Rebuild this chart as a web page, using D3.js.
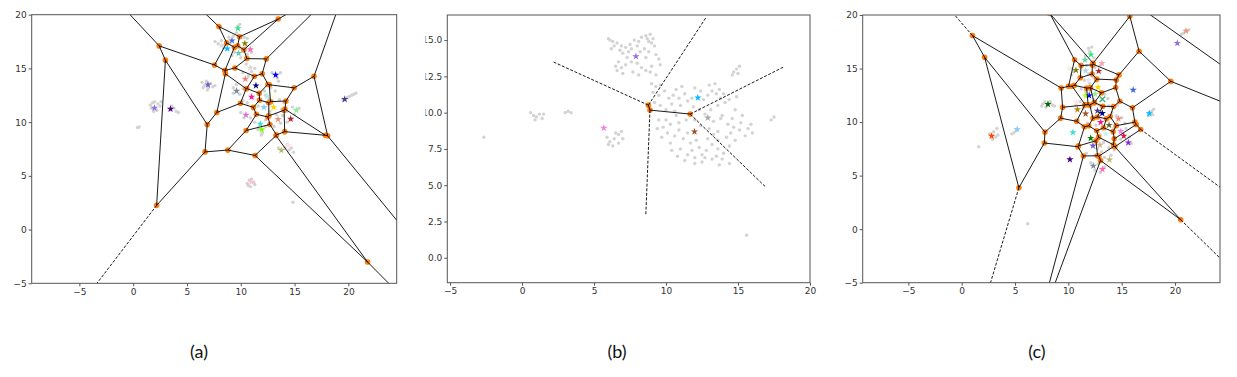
<!DOCTYPE html>
<html><head><meta charset="utf-8">
<script src="https://cdn.jsdelivr.net/npm/d3@7"></script>
<style>body{margin:0;background:#fff}svg{display:block}</style>
</head><body>
<svg id="chart" width="1237" height="377"></svg>
<script>
// ---------------- DATA ----------------
const panelLabels = ["(a)", "(b)", "(c)"];
const xTicks = [-5, 0, 5, 10, 15, 20];
const yTicksAC = [-5, 0, 5, 10, 15, 20];
const yTicksB = [0, 2.5, 5, 7.5, 10, 12.5, 15];

// cluster centres (Voronoi generators) -- panel (a)
const starsA = [[9.74,18.73],[9.18,17.59],[10.38,17.33],[8.74,16.84],[10.885,16.765],[9.80,16.41],
  [10.86,15.05],[10.42,14.02],[13.24,14.39],[11.41,13.40],[6.95,13.49],[9.61,12.90],[11.01,12.35],
  [12.45,12.41],[12.16,11.38],[13.05,11.38],[15.16,11.10],[10.48,10.67],[13.46,10.27],
  [14.64,10.30],[11.81,9.83],[11.94,9.31],[14.42,7.85],[13.77,7.38],[1.98,11.32],
  [3.47,11.23],[19.66,12.13],[10.98,4.44],[8.21,17.13],[13.0,12.45]];
const starColorsA = ["#2ee88a","#4169e1","#808000","#00bfff","#ff69b4","#66cdaa",
  "#dcdcdc","#f08080","#0000ff","#000080","#6a5acd","#778899","#ff1493",
  "#afeeee","#87cefa","#ffd700","#90ee90","#da70d6","#e9967a",
  "#b22222","#40e0d0","#7cfc00","#ffe4e1","#bdb76b","#9370db",
  "#4b0082","#483d8b","#ffc0cb","#dedede","#fffbe0"];

// panel (b)
const starsB = [[7.91,13.88],[5.68,8.94],[12.21,11.03],[11.98,8.69],[12.90,9.65]];
const starColorsB = ["#9370db","#ee82ee","#00bfff","#a0522d","#a9a9a9"];

// panel (c)
const starsC = [[21.03,18.52],[20.22,17.37],[16.08,13.0],[17.59,10.80],[12.12,16.30],[11.56,15.81],
  [13.15,15.49],[10.05,15.0],[10.71,14.85],[11.62,14.79],[12.85,14.76],[11.90,13.90],[12.79,13.25],
  [11.95,12.49],[11.61,12.46],[12.51,12.63],[13.20,12.13],[10.78,11.87],[8.09,11.67],[10.85,11.17],
  [11.62,10.78],[12.73,11.05],[13.18,10.82],[14.70,10.31],[13.03,9.98],[13.82,9.72],[14.92,9.14],
  [15.20,8.71],[15.62,8.08],[13.50,8.92],[12.10,8.50],[12.31,7.79],[12.96,7.86],[10.43,9.03],
  [10.15,6.50],[12.34,5.91],[13.857,6.483],[13.20,5.59],[5.20,9.33],[2.81,8.70]];
const starColorsC = ["#e9967a","#9370db","#4169e1","#00bfff","#2ee87a","#66cdaa",
  "#f4a6b0","#f5f5dc","#808000","#add8e6","#a52a2a","#e6e6fa","#ffd700",
  "#0000ff","#adff2f","#90ee90","#3cb371","#ffe4e1","#006400","#b8860b",
  "#a0522d","#483d8b","#000080","#fa8072","#ff1493","#556b2f","#ee82ee",
  "#dc143c","#8a2be2","#c8f0f0","#008000","#6a5acd","#d2b48c","#40e0d0",
  "#4b0082","#778899","#bdb76b","#ff69b4","#87cefa","#ff4500"];
const starMarkersC = starsC.map((d,i)=> i===16 ? "x" : "star");

// embedded samples (light grey)
const greyA = [[7.6,17.5],[7.9,17.3],[8.2,17.6],[8.5,17.2],[8.9,17.9],[9.3,18.0],[9.6,18.3],[9.9,18.0],
  [10.3,17.9],[10.6,17.8],[9.0,17.3],[9.5,17.0],[9.9,16.9],[10.2,16.6],[9.4,16.5],[10.6,16.3],[11.0,16.5],
  [9.7,18.9],[9.9,19.1],[8.4,16.9],[10.0,16.0],[10.5,17.1],[9.2,16.2],[10.5,15.4],[10.9,15.1],[11.3,15.0],
  [10.2,14.6],[10.7,14.3],[11.0,14.7],[6.4,13.7],[6.6,13.4],[6.8,13.8],[7.0,13.2],[7.2,13.6],[7.4,13.3],
  [6.5,13.2],[7.6,13.4],[6.9,13.0],[1.6,11.6],[1.8,11.8],[2.0,11.9],[2.3,11.7],[2.5,11.5],[1.7,11.3],
  [2.2,11.1],[1.9,11.0],[2.6,11.9],[3.8,11.3],[4.0,11.0],[4.2,10.9],[3.6,11.5],[0.55,9.55],[0.4,9.5],
  [9.3,13.2],[9.6,13.5],[9.9,12.6],[9.3,12.7],[10.2,13.1],[12.9,14.6],[13.4,14.1],[13.7,14.6],[13.5,13.8],
  [12.8,13.2],[13.2,12.9],[12.2,12.9],[11.8,12.0],[12.4,11.8],[12.9,12.0],[13.6,12.1],[14.0,11.8],
  [13.8,11.2],[14.3,11.0],[12.7,11.0],[11.6,11.5],[11.1,11.2],[10.9,10.4],[10.3,10.4],[10.0,10.9],
  [11.3,10.0],[12.3,10.2],[12.7,10.6],[13.3,10.7],[13.9,10.6],[14.3,10.0],[15.0,10.7],[15.4,11.3],
  [14.8,11.4],[12.0,9.0],[11.6,9.3],[12.3,9.6],[11.9,8.8],[13.1,9.6],[13.7,9.9],[10.6,11.8],[10.2,12.0],
  [12.3,12.5],[12.6,12.2],[14.3,7.9],[14.7,7.6],[14.9,7.2],[14.5,7.4],[14.1,7.6],[13.5,7.6],
  [19.9,12.3],[20.1,12.4],[20.3,12.5],[20.5,12.6],[20.7,12.7],[19.5,12.0],[10.6,4.3],[10.8,4.6],
  [11.0,4.7],[11.2,4.4],[10.7,4.1],[11.3,4.2],[10.9,4.0],[14.85,2.55]];
const greyB = [[6.0,15.1],[6.3,14.9],[6.6,14.8],[6.9,14.6],[7.2,14.5],[7.5,14.7],[7.8,15.0],[8.1,14.9],
  [8.6,15.3],[8.9,15.4],[9.1,15.1],[8.8,14.9],[9.2,14.6],[8.5,14.4],[7.0,14.1],[7.3,13.8],[6.7,13.5],
  [6.5,13.2],[6.9,13.1],[7.2,13.3],[7.6,13.5],[8.0,13.4],[8.3,13.1],[8.6,12.9],[8.9,12.8],[9.3,12.6],
  [7.4,14.2],[8.2,14.2],[8.6,13.8],[9.3,14.0],[6.2,14.4],[7.7,12.8],[9.0,12.0],[9.3,11.8],[9.6,11.9],
  [9.1,11.4],[9.5,11.2],[9.9,11.5],[10.2,11.0],[9.2,10.7],[9.6,10.5],[10.0,10.2],[10.4,10.6],
  [10.5,11.2],[10.9,11.0],[11.3,11.3],[11.5,10.8],[11.0,10.5],[10.6,10.1],[11.9,10.4],[12.3,10.2],
  [12.6,10.9],[12.9,11.2],[13.2,11.5],[13.5,11.3],[13.8,11.0],[14.1,10.7],[13.6,10.5],[13.1,10.2],
  [12.7,9.9],[13.3,9.4],[13.9,9.8],[14.3,9.2],[14.7,9.0],[14.5,8.6],[15.1,8.8],[14.2,8.3],[13.6,8.7],
  [13.0,8.9],[12.4,9.1],[11.4,9.5],[10.9,9.3],[10.3,9.2],[9.8,9.0],[9.4,8.9],[10.1,8.6],[10.6,8.4],
  [11.2,8.2],[11.7,7.9],[12.3,7.6],[12.8,7.4],[13.2,7.8],[13.6,7.5],[14.0,7.2],[11.0,7.5],[11.5,7.1],
  [12.0,6.9],[12.5,6.6],[11.3,6.7],[13.2,6.8],[10.3,7.9],[9.7,8.3],[14.4,6.5],[12.9,8.2],[13.8,9.6],
  [14.7,12.8],[14.9,13.0],[15.1,13.2],[14.6,12.6],[15.0,12.7],[17.3,9.5],[17.5,9.7],
  [0.6,10.0],[0.8,9.8],[1.0,9.7],[1.2,9.9],[0.9,9.5],[1.4,9.6],[1.5,9.9],[3.0,10.0],[3.2,10.1],[3.4,10.0],
  [5.9,8.3],[6.1,8.0],[6.4,8.2],[6.7,8.5],[6.9,8.7],[6.3,7.7],[6.7,7.9],[7.0,8.2],[6.0,7.8],[6.5,8.6],
  [-2.65,8.3],[15.6,1.55],[13.7,6.4],
  [6.1,15.0],[6.4,14.6],[6.8,14.3],[7.6,14.4],[8.0,14.6],[8.3,15.2],[8.7,15.1],[9.0,14.8],[8.8,14.2],
  [9.5,13.7],[9.6,13.3],[9.0,13.2],[6.6,12.9],[7.0,12.7],[8.1,12.6],[10.7,11.6],[11.1,11.8],[12.0,11.7],
  [12.4,11.5],[13.0,11.9],[13.4,12.0],[13.7,11.6],[14.0,11.3],[14.4,10.9],[14.8,10.2],[14.6,9.6],
  [15.2,9.3],[15.5,8.4],[15.3,9.8],[14.9,11.1],[13.3,8.5],[12.1,8.1],[11.5,8.6],[10.9,8.8],[10.0,9.5],
  [10.7,9.8],[12.0,9.5],[11.8,11.0],[12.0,6.5],[12.7,6.9],[13.5,7.0],[13.9,6.8],[13.6,8.1],[14.4,7.7],
  [9.5,9.5],[10.4,7.4],[10.8,7.0],[11.8,7.4],[12.5,7.1],[14.8,8.1],[15.7,8.9],[15.9,9.2],[16.0,8.6]];
const greyC = [[20.8,18.3],[21.1,18.5],[21.3,18.6],[20.6,18.2],[17.5,10.6],[17.8,11.0],[18.0,11.2],
  [17.6,10.9],[17.9,10.7],[7.6,11.7],[7.8,11.9],[8.0,11.5],[8.3,11.9],[8.5,11.6],[7.9,11.4],[8.7,11.5],
  [7.5,11.5],[2.6,8.9],[3.0,9.1],[3.3,9.4],[3.2,8.6],[2.9,8.4],[3.4,8.8],[4.9,9.0],[5.1,9.2],[4.7,8.9],
  [1.6,7.7],[6.2,0.5],[12.0,16.6],[11.9,16.9],[12.2,17.0],[11.6,16.2],[12.4,16.0],[11.2,15.4],[11.7,15.3],
  [12.5,15.1],[13.0,15.3],[10.2,15.0],[10.5,14.7],[11.9,14.5],[12.3,14.2],[11.5,13.9],[12.0,13.6],
  [12.6,13.8],[11.2,13.1],[11.6,12.9],[12.1,12.9],[13.4,12.6],[13.7,12.2],[12.4,12.1],[11.1,11.9],
  [10.7,11.6],[11.4,11.3],[12.1,11.4],[12.9,11.6],[13.8,11.5],[14.1,10.9],[14.5,10.6],[15.0,10.4],
  [12.4,10.3],[12.6,9.7],[13.4,9.4],[14.3,9.5],[15.4,9.4],[15.7,8.6],[15.9,8.0],[14.9,8.4],[13.0,8.8],
  [12.6,8.3],[13.3,8.1],[12.7,7.5],[13.1,7.2],[12.5,6.9],[13.4,6.7],[14.0,6.9],[12.1,6.2],[12.5,5.5],
  [13.0,5.3],[13.4,5.8],[12.8,6.1],[14.3,7.4],[13.8,7.6],[11.7,7.1],[11.3,9.6],[10.9,10.2],[11.8,9.9],
  [14.6,11.6],[15.3,9.9],[10.3,14.4]];

// ---------------- LAYOUT ----------------
const panels = [
  {label: panelLabels[0], box:[31.7,14.7,396.7,283.3], xd:[-9.43,24.49], yd:[-5,20], yTicks:yTicksAC,
   stars:starsA, colors:starColorsA, markers:null, grey:greyA, capX:199, fmt:d=>d, clipLabels:false},
  {label: panelLabels[1], box:[447.3,15,810,282.7], xd:[-5.19,20], yd:[-1.72,16.73], yTicks:yTicksB,
   stars:starsB, colors:starColorsB, markers:null, grey:greyB, capX:617, fmt:d=>d.toFixed(1), clipLabels:true},
  {label: panelLabels[2], box:[862.7,15,1220,282.7], xd:[-9.28,24.22], yd:[-5,20], yTicks:yTicksAC,
   stars:starsC, colors:starColorsC, markers:starMarkersC, grey:greyC, capX:1037, fmt:d=>d, clipLabels:false}
];

const svg = d3.select("#chart");
const defs = svg.append("defs");
const minus = s => String(s).replace("-", "\u2212");

function voronoi(pts){
  const del = d3.Delaunay.from(pts);
  const tri = del.triangles, he = del.halfedges;
  const cc = [];
  for (let t = 0; t < tri.length/3; t++){
    const [ax,ay] = pts[tri[3*t]], [bx,by] = pts[tri[3*t+1]], [cx,cy] = pts[tri[3*t+2]];
    const d = 2*(ax*(by-cy)+bx*(cy-ay)+cx*(ay-by));
    const a2 = ax*ax+ay*ay, b2 = bx*bx+by*by, c2 = cx*cx+cy*cy;
    cc.push([(a2*(by-cy)+b2*(cy-ay)+c2*(ay-by))/d, (a2*(cx-bx)+b2*(ax-cx)+c2*(bx-ax))/d]);
  }
  const center = [d3.mean(pts,p=>p[0]), d3.mean(pts,p=>p[1])];
  const ptp = Math.max(d3.max(pts,p=>p[0])-d3.min(pts,p=>p[0]), d3.max(pts,p=>p[1])-d3.min(pts,p=>p[1]));
  const finite = [], infinite = [];
  for (let e = 0; e < he.length; e++){
    const o = he[e];
    if (o >= 0){ if (e < o) finite.push([cc[Math.floor(e/3)], cc[Math.floor(o/3)]]); }
    else {
      const p0 = pts[tri[e]], p1 = pts[tri[e%3===2 ? e-2 : e+1]];
      let tx = p1[0]-p0[0], ty = p1[1]-p0[1]; const L = Math.hypot(tx,ty); tx/=L; ty/=L;
      const nx = -ty, ny = tx;
      const mx = (p0[0]+p1[0])/2, my = (p0[1]+p1[1])/2;
      const s = Math.sign((mx-center[0])*nx + (my-center[1])*ny);
      const v = cc[Math.floor(e/3)];
      infinite.push([v, [v[0]+s*nx*ptp, v[1]+s*ny*ptp]]);
    }
  }
  return {vertices: cc, finite, infinite};
}

panels.forEach((p, pi) => {
  const [x0,y0,x1,y1] = p.box;
  const x = d3.scaleLinear().domain(p.xd).range([x0,x1]);
  const y = d3.scaleLinear().domain(p.yd).range([y1,y0]);
  const cid = "clip"+pi;
  defs.append("clipPath").attr("id",cid).append("rect").attr("x",x0).attr("y",y0).attr("width",x1-x0).attr("height",y1-y0);
  const g = svg.append("g");
  const plot = g.append("g").attr("clip-path",`url(#${cid})`);

  plot.selectAll("circle.grey").data(p.grey).join("circle").attr("class","grey")
    .attr("cx",d=>x(d[0])).attr("cy",d=>y(d[1])).attr("r",1.7).attr("fill","#d3d3d3");

  const starPath = d3.symbol(d3.symbolStar, 17)();
  p.stars.forEach((d,i) => {
    if (p.markers && p.markers[i] === "x"){
      const cx = x(d[0]), cy = y(d[1]), r = 2.8;
      plot.append("path").attr("d",`M${cx-r},${cy-r}L${cx+r},${cy+r}M${cx-r},${cy+r}L${cx+r},${cy-r}`)
        .attr("stroke",p.colors[i]).attr("stroke-width",1.3).attr("fill","none");
    } else {
      plot.append("path").attr("d",starPath).attr("transform",`translate(${x(d[0])},${y(d[1])})`)
        .attr("fill",p.colors[i]);
    }
  });

  const vor = voronoi(p.stars);
  plot.selectAll("circle.vtx").data(vor.vertices).join("circle").attr("class","vtx")
    .attr("cx",d=>x(d[0])).attr("cy",d=>y(d[1])).attr("r",2.8).attr("fill","#ff7f0e");
  plot.selectAll("line.fin").data(vor.finite).join("line").attr("class","fin")
    .attr("x1",d=>x(d[0][0])).attr("y1",d=>y(d[0][1])).attr("x2",d=>x(d[1][0])).attr("y2",d=>y(d[1][1]))
    .attr("stroke","#000").attr("stroke-width",0.9);
  plot.selectAll("line.inf").data(vor.infinite).join("line").attr("class","inf")
    .attr("x1",d=>x(d[0][0])).attr("y1",d=>y(d[0][1])).attr("x2",d=>x(d[1][0])).attr("y2",d=>y(d[1][1]))
    .attr("stroke","#000").attr("stroke-width",0.9).attr("stroke-dasharray","3,1.6");

  // frame
  g.append("rect").attr("x",x0).attr("y",y0).attr("width",x1-x0).attr("height",y1-y0)
    .attr("fill","none").attr("stroke","#555").attr("stroke-width",1);

  // x axis
  const xa = g.append("g").attr("transform",`translate(0,${y1})`)
    .call(d3.axisBottom(x).tickValues(xTicks).tickSize(3).tickPadding(2).tickFormat(d=>minus(d)));
  xa.select(".domain").remove();
  // y axis (wrapped so a label clip can be given in page coordinates)
  const yWrap = g.append("g");
  const ya = yWrap.append("g").attr("transform",`translate(${x0},0)`)
    .call(d3.axisLeft(y).tickValues(p.yTicks).tickSize(3).tickPadding(2).tickFormat(d=>minus(p.fmt(d))));
  ya.select(".domain").remove();
  [xa, ya].forEach(a => {
    a.selectAll("line").attr("stroke","#555");
    a.selectAll("text").attr("font-family","DejaVu Sans").attr("font-size",9).attr("fill","#333");
  });
  if (p.clipLabels){
    defs.append("clipPath").attr("id","lab"+pi).append("rect").attr("x",425.5).attr("y",0).attr("width",60).attr("height",300);
    yWrap.attr("clip-path",`url(#lab${pi})`);
  }

  svg.append("text").attr("x",p.capX).attr("y",358).attr("text-anchor","middle")
    .attr("font-family","Lato").attr("font-size",18).attr("fill","#111").text(p.label);
});
</script>
</body></html>
